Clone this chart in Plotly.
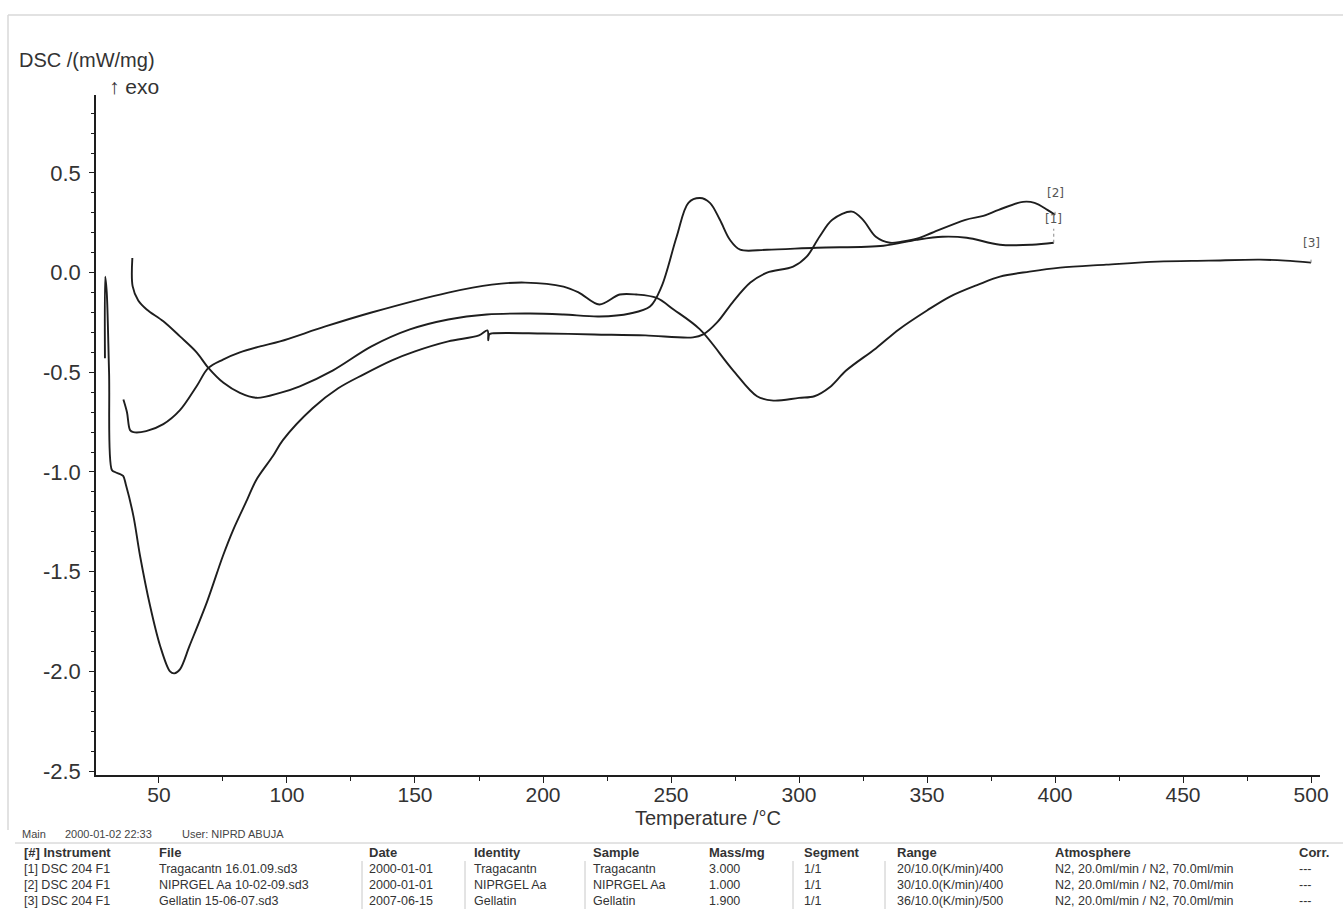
import plotly.graph_objects as go

# ---- DSC curves (temperature in °C, DSC in mW/mg) ----
temp_trag = [39.6, 39.7, 41.9, 45.2, 51.7, 58.2, 64.7, 69.3, 75.2, 81.6, 88.2, 97.3, 105, 118, 133,
             148, 163, 178, 195, 208, 222, 234, 241.8, 246.3, 252.2, 256.8, 261.3, 265.2, 269.1,
             273, 277, 287.5, 307, 333, 346, 356, 365.5, 378.5, 391, 399.5]
dsc_trag = [0.073, -0.068, -0.14, -0.185, -0.244, -0.32, -0.40, -0.478, -0.553, -0.603, -0.628,
            -0.603, -0.57, -0.49, -0.37, -0.285, -0.235, -0.21, -0.205, -0.21, -0.22, -0.205,
            -0.17, -0.07, 0.18, 0.35, 0.374, 0.35, 0.265, 0.165, 0.115, 0.115, 0.125, 0.135,
            0.165, 0.18, 0.175, 0.14, 0.14, 0.15]

temp_nip = [28.9, 29.0, 29.6, 30.5, 31.6, 32.8, 34.6, 36.0, 37.0, 40, 42.6, 46.5, 50.4, 54.3, 56,
            58.2, 62, 68.8, 75, 79, 84.4, 88, 94.5, 98.4, 110, 120, 130, 141, 150, 163, 175,
            178.3, 178.6, 179, 180, 200, 220, 240, 258.6, 262.6, 268, 274, 281, 287.5, 297.7,
            303, 308, 313, 320.7, 325, 330, 335.5, 340, 346, 352, 365, 372, 378, 387.5, 392,
            397, 400]
dsc_nip = [-0.43, -0.02, -0.1, -0.5, -0.99, -1.0, -1.01, -1.02, -1.06, -1.22, -1.42, -1.67, -1.87,
           -2.0, -2.01, -1.99, -1.87, -1.65, -1.42, -1.29, -1.14, -1.04, -0.92, -0.84, -0.68,
           -0.58, -0.51, -0.44, -0.395, -0.345, -0.315, -0.29, -0.34, -0.31, -0.305, -0.305,
           -0.31, -0.315, -0.325, -0.31, -0.25, -0.15, -0.05, 0.0, 0.03, 0.08, 0.18, 0.265,
           0.306, 0.265, 0.18, 0.15, 0.155, 0.17, 0.2, 0.265, 0.285, 0.315, 0.355, 0.35, 0.315,
           0.29]

temp_gel = [36.1, 37.5, 38.7, 40, 45, 51.7, 58.2, 64.7, 69.3, 75, 81.6, 89.5, 97.3, 115, 133, 163,
            180, 193, 208, 214, 222, 230, 236.5, 244.4, 251, 261.3, 274, 283.6, 290, 300, 306,
            312, 318.5, 330, 339, 350, 359, 370, 378.5, 390, 402, 420, 440, 460, 480, 490, 500]
dsc_gel = [-0.636, -0.70, -0.79, -0.80, -0.795, -0.76, -0.69, -0.57, -0.478, -0.436, -0.40, -0.37,
           -0.345, -0.27, -0.2, -0.1, -0.06, -0.05, -0.07, -0.1, -0.16, -0.11, -0.11, -0.127,
           -0.185, -0.285, -0.486, -0.62, -0.642, -0.628, -0.62, -0.575, -0.49, -0.38, -0.285,
           -0.19, -0.12, -0.06, -0.02, 0.005, 0.025, 0.04, 0.055, 0.06, 0.065, 0.06, 0.05]

curve_tags = ["[1]", "[2]", "[3]"]

# ---- measurement table below the plot ----
table_header = ["[#] Instrument", "File", "Date", "Identity", "Sample", "Mass/mg", "Segment",
                "Range", "Atmosphere", "Corr."]
table_rows = [
    ["[1] DSC 204 F1", "Tragacantn 16.01.09.sd3", "2000-01-01", "Tragacantn", "Tragacantn",
     "3.000", "1/1", "20/10.0(K/min)/400", "N2, 20.0ml/min / N2, 70.0ml/min", "---"],
    ["[2] DSC 204 F1", "NIPRGEL Aa 10-02-09.sd3", "2000-01-01", "NIPRGEL Aa", "NIPRGEL Aa",
     "1.000", "1/1", "30/10.0(K/min)/400", "N2, 20.0ml/min / N2, 70.0ml/min", "---"],
    ["[3] DSC 204 F1", "Gellatin 15-06-07.sd3", "2007-06-15", "Gellatin", "Gellatin",
     "1.900", "1/1", "36/10.0(K/min)/500", "N2, 20.0ml/min / N2, 70.0ml/min", "---"],
]
info_parts = ["Main", "2000-01-02 22:33", "User: NIPRD ABUJA"]

y_ticks = [0.5, 0.0, -0.5, -1.0, -1.5, -2.0, -2.5]
y_tick_text = ["0.5", "0.0", "-0.5", "-1.0", "-1.5", "-2.0", "-2.5"]
x_ticks = [50, 100, 150, 200, 250, 300, 350, 400, 450, 500]

W, H = 1343, 909
L, R, T, B = 96, 23, 95, 134
PW, PH = W - L - R, H - T - B
FONT = "Liberation Sans, Arial, sans-serif"
INK = "#1e1e1e"
TXT = "#333"


def px(x):
    return (x - L) / PW


def py(y):
    return (H - B - y) / PH


fig = go.Figure()
for tx, ty in [(temp_trag, dsc_trag), (temp_nip, dsc_nip), (temp_gel, dsc_gel)]:
    fig.add_trace(go.Scatter(x=tx, y=ty, mode="lines",
                             line=dict(color=INK, width=1.9, shape="spline", smoothing=0.95),
                             hoverinfo="skip", showlegend=False))

# curve end tags with dotted leaders
ends = [(temp_trag[-1], dsc_trag[-1], 14, 24), (temp_nip[-1], dsc_nip[-1], 6, 22),
        (temp_gel[-1], dsc_gel[-1], 6, 20)]
for tag, (ex, ey, lead, shift) in zip(curve_tags, ends):
    fig.add_shape(type="line", xref="x", yref="y", x0=ex, x1=ex, ysizemode="pixel", yanchor=ey,
                  y0=0, y1=lead, line=dict(color="#888", width=1, dash="dot"))
    fig.add_annotation(x=ex, y=ey, xref="x", yref="y", text=tag, showarrow=False,
                       yshift=shift, font=dict(family="DejaVu Sans", size=12, color="#555"))

# axis titles
fig.add_annotation(x=px(17), y=py(60), xref="paper", yref="paper", text="DSC /(mW/mg)",
                   showarrow=False, xanchor="left", yanchor="middle",
                   font=dict(family=FONT, size=20, color=TXT))
fig.add_annotation(x=px(107), y=py(86), xref="paper", yref="paper", text="\u2191 exo",
                   showarrow=False, xanchor="left", yanchor="middle",
                   font=dict(family=FONT, size=21, color=TXT))
fig.add_annotation(x=0.5, y=py(818), xref="paper", yref="paper", text="Temperature /\u00b0C",
                   showarrow=False, xanchor="center", yanchor="middle",
                   font=dict(family=FONT, size=20, color=TXT))

# info line and table
for ix, part in zip([20, 63, 180], info_parts):
    fig.add_annotation(x=px(ix), y=py(834), xref="paper", yref="paper", text=part,
                       showarrow=False, xanchor="left", yanchor="middle",
                       font=dict(family=FONT, size=11, color="#444"))
col_x = [22, 157, 367, 472, 591, 707, 802, 895, 1053, 1297]
row_y = [852, 869, 885, 901]
for cx, h in zip(col_x, table_header):
    fig.add_annotation(x=px(cx), y=py(row_y[0]), xref="paper", yref="paper",
                       text="<b>" + h + "</b>", showarrow=False, xanchor="left",
                       yanchor="middle", font=dict(family=FONT, size=13, color=TXT))
for ry, row in zip(row_y[1:], table_rows):
    for cx, cell in zip(col_x, row):
        fig.add_annotation(x=px(cx), y=py(ry), xref="paper", yref="paper", text=cell,
                           showarrow=False, xanchor="left", yanchor="middle",
                           font=dict(family=FONT, size=12.5, color=TXT))

fig.add_shape(type="line", xref="paper", yref="paper", x0=px(15), x1=px(1343),
              y0=py(843), y1=py(843), line=dict(color="#c8c8c8", width=1))
for sx in [362, 465, 585, 793, 885]:
    fig.add_shape(type="line", xref="paper", yref="paper", x0=px(sx), x1=px(sx),
                  y0=py(861), y1=py(909), line=dict(color="#c8c8c8", width=1))

# page frame
fig.add_shape(type="line", xref="paper", yref="paper", x0=px(8), x1=px(1343),
              y0=py(15), y1=py(15), line=dict(color="#d8d8d8", width=1.5))
fig.add_shape(type="line", xref="paper", yref="paper", x0=px(8), x1=px(8),
              y0=py(15), y1=py(830), line=dict(color="#d8d8d8", width=1.5))

fig.update_layout(
    width=W, height=H,
    margin=dict(l=L, r=R, t=T, b=B, pad=0),
    paper_bgcolor="white", plot_bgcolor="white",
    font=dict(family=FONT, color=TXT),
    xaxis=dict(range=[25.4, 503.5], tickvals=x_ticks, ticks="outside", ticklen=6,
               tickcolor=INK, showline=True, linecolor=INK, linewidth=1.5, showgrid=False,
               zeroline=False, tickfont=dict(size=21, color=TXT), ticklabelstandoff=-6,
               minor=dict(dtick=25, tick0=0, ticks="outside", ticklen=4, tickcolor=INK)),
    yaxis=dict(range=[-2.52, 0.891], tickvals=y_ticks, ticktext=y_tick_text, ticks="outside",
               ticklen=5, tickcolor=INK, showline=True, linecolor=INK, linewidth=1.5,
               showgrid=False, zeroline=False, tickfont=dict(size=22, color=TXT),
               ticklabelstandoff=4,
               minor=dict(dtick=0.1, tick0=0, ticks="outside", ticklen=3, tickcolor=INK)),
)

fig.write_html("out.html")
